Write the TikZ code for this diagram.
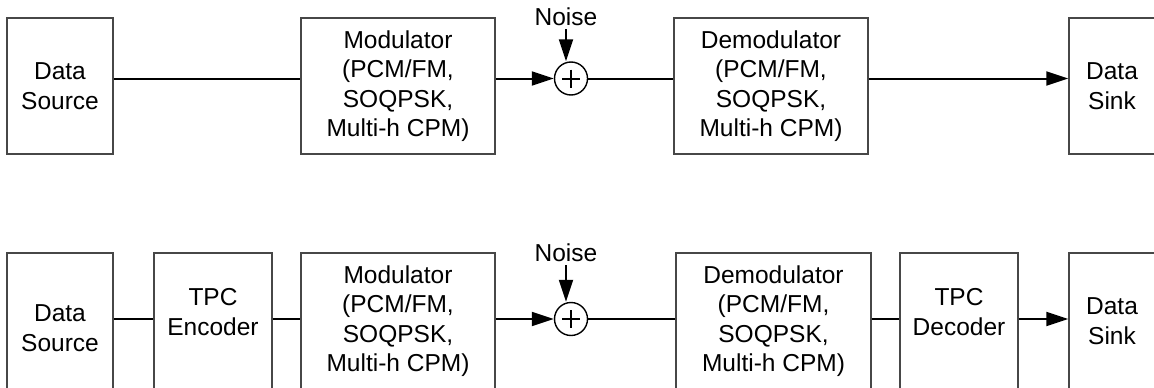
\documentclass[tikz,border=0pt]{standalone}
\usepackage{fontspec}
\setmainfont{Liberation Sans}
\usetikzlibrary{arrows.meta,calc}
\begin{document}
\begin{tikzpicture}[x=1pt,y=-1pt,
  lblfont/.style={font=\fontsize{24.5}{29.5}\selectfont},
  blk/.style={draw=black!72, line width=1.5pt, inner sep=0pt, align=center, minimum height=136pt, lblfont},
  txt/.style={inner sep=0pt, align=center, lblfont},
  wire/.style={line width=2pt, draw=black},
  arr/.style={wire, -{Triangle[length=22pt,width=14pt]}},
  sumc/.style={circle, draw=black, line width=1.4pt, minimum size=33pt, inner sep=0pt},
  plus/.style={line width=2pt, draw=black}
]
\useasboundingbox (0,0) rectangle (1154,388);
\fill[white] (0,0) rectangle (1154,388);
\clip (0,0) rectangle (1154,388);

% ---------- top row ----------
\node[blk, minimum width=106pt] (src1) at (60,86) {Data\\Source};
\node[blk, minimum width=194pt] (mod1) at (398,86) {Modulator\\(PCM/FM,\\SOQPSK,\\Multi-h CPM)};
\node[sumc] (sum1) at (571,78.5) {};
\node[blk, minimum width=194pt] (dem1) at (771,86) {Demodulator\\(PCM/FM,\\SOQPSK,\\Multi-h CPM)};
\node[blk, minimum width=86pt] (snk1) at (1112,86) {Data\\Sink};
\node[txt, inner sep=3pt] (noise1) at (566,17) {Noise};

\draw[plus] ($(sum1)+(-9,0)$) -- ($(sum1)+(9,0)$);
\draw[plus] ($(sum1)+(0,-9)$) -- ($(sum1)+(0,9)$);

\draw[wire] (src1.east |- sum1) -- (mod1.west |- sum1);
\draw[arr] (mod1.east |- sum1) -- (sum1.west);
\draw[wire] (sum1.east) -- (dem1.west |- sum1);
\draw[arr] (dem1.east |- sum1) -- (snk1.west |- sum1);
\draw[arr] (noise1.south) -- (noise1.south |- sum1.north);

% ---------- bottom row ----------
\node[blk, minimum width=106pt] (src2) at (60,321) {};
\node[txt] (src2t) at (60,328) {Data\\Source};
\node[blk, minimum width=118pt] (enc2) at (213,321) {};
\node[txt] (enc2t) at (213,312) {TPC\\Encoder};
\node[blk, minimum width=194pt] (mod2) at (398,321) {Modulator\\(PCM/FM,\\SOQPSK,\\Multi-h CPM)};
\node[sumc] (sum2) at (571,319) {};
\node[blk, minimum width=195pt] (dem2) at (773.5,321) {Demodulator\\(PCM/FM,\\SOQPSK,\\Multi-h CPM)};
\node[blk, minimum width=118pt] (dec2) at (959,321) {};
\node[txt] (dec2t) at (959,312) {TPC\\Decoder};
\node[blk, minimum width=86pt] (snk2) at (1112,321) {Data\\Sink};
\node[txt, inner sep=3pt] (noise2) at (566,253) {Noise};

\draw[plus] ($(sum2)+(-9,0)$) -- ($(sum2)+(9,0)$);
\draw[plus] ($(sum2)+(0,-9)$) -- ($(sum2)+(0,9)$);

\draw[wire] (src2.east |- sum2) -- (enc2.west |- sum2);
\draw[wire] (enc2.east |- sum2) -- (mod2.west |- sum2);
\draw[arr] (mod2.east |- sum2) -- (sum2.west);
\draw[wire] (sum2.east) -- (dem2.west |- sum2);
\draw[wire] (dem2.east |- sum2) -- (dec2.west |- sum2);
\draw[arr] (dec2.east |- sum2) -- (snk2.west |- sum2);
\draw[arr] (noise2.south) -- (noise2.south |- sum2.north);
\end{tikzpicture}
\end{document}
